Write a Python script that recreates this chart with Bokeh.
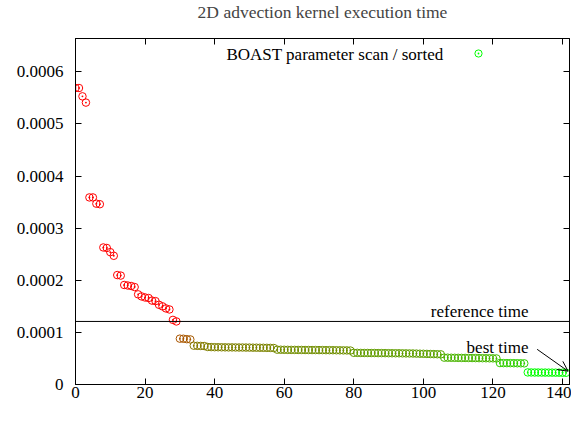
from bokeh.plotting import figure
from bokeh.models import (ColumnDataSource, LinearColorMapper, Span, Label, Arrow, OpenHead,
                          LinearAxis, FixedTicker, NumeralTickFormatter, Legend, LegendItem, Range1d)
from bokeh.transform import transform
from bokeh.embed import file_html
from bokeh.resources import INLINE

FONT = "Liberation Serif"
FS = "17px"

TITLE = "2D advection kernel execution time"
SERIES_NAME = "BOAST parameter scan / sorted"
REF_LABEL = "reference time"
BEST_LABEL = "best time"

# sorted execution times (s), one per configuration of the parameter scan
times = [
    0.000569, 0.000569, 0.000553, 0.000541, 0.000359, 0.000359, 0.000347, 0.000346,
    0.000263, 0.000262, 0.000254, 0.000247, 0.000210, 0.000209, 0.000191, 0.000190,
    0.000189, 0.000187, 0.000173, 0.000169, 0.000167, 0.000166, 0.000161, 0.000160,
    0.000153, 0.000150, 0.000146, 0.000144, 0.000124, 0.000121,
    0.0000880, 0.0000878, 0.0000870, 0.0000865,
    0.0000745, 0.0000742, 0.0000740, 0.0000738,
    0.0000720, 0.0000718, 0.0000716, 0.0000715, 0.0000714, 0.0000713, 0.0000712, 0.0000712,
    0.0000711, 0.0000710, 0.0000710, 0.0000709, 0.0000708, 0.0000707, 0.0000706, 0.0000705,
    0.0000704, 0.0000703, 0.0000702, 0.0000700,
    0.0000668, 0.0000667, 0.0000666, 0.0000665, 0.0000664, 0.0000664, 0.0000663, 0.0000663,
    0.0000662, 0.0000662, 0.0000661, 0.0000661, 0.0000660, 0.0000660, 0.0000659, 0.0000659,
    0.0000658, 0.0000657, 0.0000656, 0.0000655, 0.0000654, 0.0000652,
    0.0000608, 0.0000607, 0.0000606, 0.0000605, 0.0000605, 0.0000604, 0.0000604, 0.0000603,
    0.0000603, 0.0000602, 0.0000601, 0.0000600, 0.0000600, 0.0000599, 0.0000598, 0.0000597,
    0.0000596, 0.0000595, 0.0000593, 0.0000591, 0.0000589, 0.0000587, 0.0000585, 0.0000583,
    0.0000581, 0.0000579,
    0.0000515, 0.0000514, 0.0000513, 0.0000512, 0.0000511, 0.0000510, 0.0000510, 0.0000509,
    0.0000508, 0.0000507, 0.0000506, 0.0000505, 0.0000504, 0.0000503, 0.0000502, 0.0000500,
    0.0000412, 0.0000411, 0.0000410, 0.0000410, 0.0000409, 0.0000408, 0.0000407, 0.0000406,
    0.0000232, 0.0000231, 0.0000230, 0.0000230, 0.0000229, 0.0000229, 0.0000228, 0.0000228,
    0.0000227, 0.0000227, 0.0000226, 0.0000225,
]
index = list(range(len(times)))
ref_time = 0.000121

x_ticks = [0, 20, 40, 60, 80, 100, 120, 140]
y_ticks = [0, 0.0001, 0.0002, 0.0003, 0.0004, 0.0005, 0.0006]

src = ColumnDataSource(data=dict(x=index, y=times))

# red (slow, >= reference) to green (fast) palette
palette = ["#%02x%02x00" % (i, 255 - i) for i in range(256)]
mapper = LinearColorMapper(palette=palette, low=min(times), high=ref_time, high_color="#ff0000")

p = figure(width=571, height=406, output_backend="svg", toolbar_location=None,
           x_range=Range1d(0, 142), y_range=Range1d(0, 0.000664),
           min_border_left=75, min_border_right=2, min_border_top=38, min_border_bottom=22,
           title=TITLE)
p.title.text_font = FONT
p.title.text_font_size = "17.5px"
p.title.text_font_style = "normal"
p.title.align = "center"
p.title.standoff = 3
p.title.vertical_align = "top"
p.grid.visible = False
p.outline_line_color = "black"
p.outline_line_width = 1
p.background_fill_color = "white"
p.border_fill_color = "white"

xt = FixedTicker(ticks=x_ticks)
yt = FixedTicker(ticks=y_ticks)

for ax in (p.xaxis[0], p.yaxis[0]):
    ax.major_tick_in = 6
    ax.major_tick_out = 0
    ax.minor_tick_line_color = None
    ax.axis_line_color = "black"
    ax.major_tick_line_color = "black"
    ax.major_label_text_font = FONT
    ax.major_label_text_font_size = FS
    ax.major_label_text_color = "black"
p.xaxis[0].ticker = xt
p.yaxis[0].ticker = yt
p.xaxis[0].major_label_standoff = 2
p.yaxis[0].major_label_standoff = 12
p.yaxis[0].formatter = NumeralTickFormatter(format="0.[0000]")

# mirrored ticks on top and right (no labels)
top_ax = LinearAxis(ticker=xt, major_label_text_color=None, major_label_text_font_size="0px",
                    major_label_standoff=0, major_tick_in=6, major_tick_out=0,
                    minor_tick_line_color=None)
right_ax = LinearAxis(ticker=yt, major_label_text_color=None, major_label_text_font_size="0px",
                      major_label_standoff=0, major_tick_in=6, major_tick_out=0,
                      minor_tick_line_color=None)
# invisible spacer between the frame and the title
spacer_ax = LinearAxis(ticker=xt, major_label_text_color=None, major_label_text_font_size="0px",
                       major_label_standoff=0, major_tick_in=0, major_tick_out=13,
                       major_tick_line_color=None, axis_line_color=None,
                       minor_tick_line_color=None, minor_tick_out=0)
p.add_layout(top_ax, "above")
p.add_layout(spacer_ax, "above")
p.add_layout(right_ax, "right")

pts = p.scatter("x", "y", source=src, marker="circle_dot", size=7.5, fill_color=None,
                line_color=transform("y", mapper), line_width=1)

p.add_layout(Span(location=ref_time, dimension="width", line_color="black", line_width=1))

p.add_layout(Label(x=130.2, y=0.000141, text=REF_LABEL, text_align="right", text_baseline="middle",
                   text_font=FONT, text_font_size=FS, text_color="black"))
p.add_layout(Label(x=130.2, y=0.000071, text=BEST_LABEL, text_align="right", text_baseline="middle",
                   text_font=FONT, text_font_size=FS, text_color="black"))
p.add_layout(Arrow(x_start=132.7, y_start=0.0000675, x_end=index[-1] + 0.6, y_end=times[-1] + 0.000003,
                   line_color="black", line_width=1,
                   end=OpenHead(size=10, line_color="black", line_width=1)))

# key: text on the left, sample on the right (gnuplot style)
p.add_layout(Label(x=105.8, y=0.000633, text=SERIES_NAME, text_align="right", text_baseline="middle",
                   text_font=FONT, text_font_size=FS, text_color="black"))
legend = Legend(items=[LegendItem(label=" ", renderers=[pts], index=len(times) - 1)],
                location=(394, 322), padding=0, spacing=0, margin=0,
                glyph_width=18, glyph_height=18, label_width=0, label_height=18,
                label_standoff=0, label_text_font_size="8px",
                border_line_color=None, background_fill_alpha=0)
p.add_layout(legend, "center")

open("out.html", "w").write(file_html(p, INLINE))
